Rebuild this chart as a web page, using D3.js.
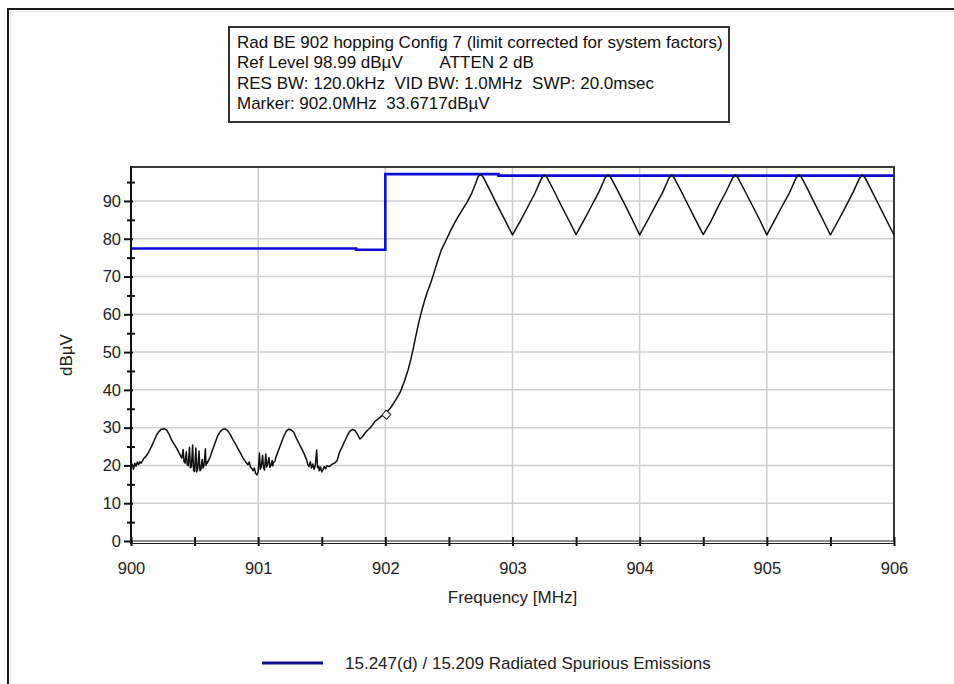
<!DOCTYPE html>
<html><head><meta charset="utf-8">
<script src="https://cdn.jsdelivr.net/npm/d3@7"></script>
<style>
html,body{margin:0;padding:0;background:#fff;}
svg{display:block;font-family:"Liberation Sans",Arial,sans-serif;}
</style></head>
<body>
<svg id="chart" width="954" height="684"></svg>
<script>
// ---- data ----
const headerLines = [
  "Rad BE 902 hopping Config 7 (limit corrected for system factors)",
  "Ref Level 98.99 dB\u00b5V        ATTEN 2 dB",
  "RES BW: 120.0kHz  VID BW: 1.0MHz  SWP: 20.0msec",
  "Marker: 902.0MHz  33.6717dB\u00b5V"
];
const xTickLabels = [900, 901, 902, 903, 904, 905, 906];
const xMinorTicks = [900.5, 901.5, 902.5, 903.5, 904.5, 905.5];
const yTickLabels = [0, 10, 20, 30, 40, 50, 60, 70, 80, 90];
const yMinorTicks = [5, 15, 25, 35, 45, 55, 65, 75, 85, 95];
const xTitle = "Frequency [MHz]";
const yTitle = "dB\u00b5V";
const legendLabel = "15.247(d) / 15.209 Radiated Spurious Emissions";
const refLevel = 98.99;
const marker = {freq: 902.0, level: 33.6717};

// limit line (15.247(d) / 15.209)
const limitFreq = [900, 901.77, 901.77, 902.0, 902.0, 902.89, 902.89, 906];
const limitDb   = [77.4, 77.4, 77.1, 77.1, 97.1, 97.1, 96.7, 96.7];

// measured trace
const traceFreq = [
 900.00,900.01,900.02,900.03,900.04,900.05,900.06,900.07,900.08,900.10,
 900.12,900.14,900.16,900.18,900.20,900.22,900.24,900.26,900.28,900.30,
 900.32,900.34,900.36,900.38,900.40,900.41,900.417,900.425,900.435,900.442,
 900.45,900.46,900.467,900.475,900.485,900.492,900.50,900.51,900.517,900.525,
 900.535,900.542,900.55,900.56,900.567,900.575,900.585,900.59,900.595,900.60,
 900.61,900.62,900.64,900.66,900.68,900.70,900.72,900.74,900.76,
 900.78,900.80,900.82,900.84,900.86,900.88,900.90,900.92,900.93,900.94,
 900.95,900.96,900.97,900.98,900.99,901.00,901.01,901.017,901.025,901.035,
 901.042,901.05,901.06,901.067,901.075,901.085,901.092,901.10,901.11,901.115,
 901.12,901.13,901.14,901.16,901.18,901.20,901.22,901.24,901.26,901.28,
 901.30,901.32,901.34,901.36,901.38,901.39,901.40,901.41,901.42,901.43,
 901.44,901.45,901.46,901.467,901.475,901.48,901.49,901.50,901.51,901.52,
 901.53,901.54,901.56,901.58,901.60,901.62,901.64,901.66,901.68,901.70,
 901.72,901.74,901.76,901.78,901.80,901.82,901.84,901.86,901.88,901.90,
 901.92,901.94,901.96,901.98,902.00,902.04,902.08,902.12,902.15,902.18,
 902.20,902.22,902.24,902.26,902.285,902.31,902.33,902.35,902.38,902.41,
 902.44,902.48,902.52,902.56,902.60,902.64,902.68,902.71,902.73,902.75,
 902.77,902.82,902.88,902.94,903.00,903.06,903.12,903.18,903.23,903.25,
 903.27,903.32,903.38,903.44,903.50,903.56,903.62,903.68,903.73,903.75,
 903.77,903.82,903.88,903.94,904.00,904.06,904.12,904.18,904.23,904.25,
 904.27,904.32,904.38,904.44,904.50,904.56,904.62,904.68,904.73,904.75,
 904.77,904.82,904.88,904.94,905.00,905.06,905.12,905.18,905.23,905.25,
 905.27,905.32,905.38,905.44,905.50,905.56,905.62,905.68,905.73,905.75,
 905.77,905.82,905.88,905.94,906.00
];
const traceDb = [
 19.5,20.3,19.0,20.6,19.8,20.9,20.2,21.0,20.6,21.8,
 22.5,23.6,24.9,26.4,28.0,29.0,29.6,29.7,29.4,28.2,
 26.7,25.6,24.5,23.2,21.9,24.2,21.0,20.6,23.6,20.2,
 19.9,24.8,19.4,19.6,25.4,18.6,18.4,24.6,18.3,19.2,
 23.8,18.6,18.9,21.6,19.3,20.2,24.4,20.0,21.0,20.6,
 21.4,22.0,24.0,25.8,27.7,28.9,29.5,29.7,29.2,
 28.2,26.9,25.8,24.5,23.3,22.0,21.0,20.2,20.9,19.5,
 19.2,18.6,19.3,17.9,17.5,18.2,23.3,19.0,19.8,22.6,
 19.4,18.8,23.0,19.6,20.4,22.1,19.5,20.0,21.3,19.9,
 20.8,21.0,22.2,24.0,25.8,27.6,29.0,29.6,29.4,28.8,
 27.2,25.9,24.6,23.2,21.6,20.3,19.7,21.0,19.3,20.4,
 19.0,20.1,24.1,19.4,19.8,18.6,19.6,18.3,18.9,19.7,
 19.1,19.9,19.7,20.3,20.6,21.2,23.5,24.9,26.4,27.8,
 29.0,29.5,29.3,28.3,27.0,27.6,28.5,29.3,29.9,30.8,
 31.7,32.2,32.8,33.3,33.7,35.2,37.2,39.6,42.3,45.4,
 48.0,51.0,54.3,57.4,60.8,63.8,65.9,67.6,70.7,74.0,
 77.0,79.8,82.6,85.1,87.4,89.5,92.1,94.6,96.5,97.0,
 96.3,93.0,88.9,85.0,81.0,84.6,88.4,92.3,96.1,96.9,
 96.3,93.1,89.0,85.1,81.1,84.8,88.6,92.4,96.2,96.9,
 96.4,93.2,89.3,85.2,81.0,84.7,88.5,92.2,96.0,96.9,
 96.2,93.0,89.0,85.0,81.1,84.6,88.7,92.5,96.0,96.9,
 96.3,93.1,89.2,85.3,81.0,84.8,88.6,92.3,96.1,96.9,
 96.4,93.2,89.1,85.1,81.0,84.7,88.5,92.4,96.1,96.9,
 96.3,93.0,89.0,85.0,81.0
];

// ---- drawing ----
const svg = d3.select("#chart");
const W = 954, H = 684;
const x = d3.scaleLinear().domain([900, 906]).range([131, 894]);
const y = d3.scaleLinear().domain([0, refLevel]).range([541, 167]);
const FONT = "Liberation Sans, Arial, sans-serif";

svg.append("rect").attr("width", W).attr("height", H).attr("fill", "#fefefe");
// outer frame (top & left visible)
svg.append("path").attr("d", `M8,${H} L8,9 L${W},9`).attr("fill", "none")
  .attr("stroke", "#1a1a1a").attr("stroke-width", 2);
svg.append("path").attr("d", `M10.5,${H} L10.5,11.5 L${W},11.5`).attr("fill", "none")
  .attr("stroke", "#e6e6e6").attr("stroke-width", 1);

// header box
const hb = svg.append("g");
hb.append("rect").attr("x", 229).attr("y", 27).attr("width", 500).attr("height", 95)
  .attr("fill", "#fff").attr("stroke", "#333").attr("stroke-width", 2);
hb.selectAll("text").data(headerLines).join("text")
  .attr("x", 237).attr("y", (d, i) => 48 + i * 20.3)
  .attr("font-size", 17).attr("fill", "#111")
  .style("white-space", "pre")
  .text(d => d);

// gridlines
const grid = svg.append("g").attr("stroke", "#cfcfcf").attr("stroke-width", 1.5);
grid.selectAll("line.v").data(xTickLabels.slice(1, -1)).join("line").attr("class", "v")
  .attr("x1", d => x(d)).attr("x2", d => x(d)).attr("y1", y(refLevel)).attr("y2", y(0));
grid.selectAll("line.h").data(yTickLabels.slice(1)).join("line").attr("class", "h")
  .attr("x1", x(900)).attr("x2", x(906)).attr("y1", d => y(d)).attr("y2", d => y(d));

// plot border top/right
svg.append("path").attr("d", `M${x(900)},${y(refLevel)} L${x(906)},${y(refLevel)} L${x(906)},${y(0)}`)
  .attr("fill", "none").attr("stroke", "#3a3a3a").attr("stroke-width", 2);

// limit line
const line = d3.line().x(d => x(d[0])).y(d => y(d[1]));
svg.append("path").datum(limitFreq.map((f, i) => [f, limitDb[i]]))
  .attr("d", line).attr("fill", "none").attr("stroke", "#0c0cd6").attr("stroke-width", 2.6);

// trace
svg.append("path").datum(traceFreq.map((f, i) => [f, traceDb[i]]))
  .attr("d", line).attr("fill", "none").attr("stroke", "#111").attr("stroke-width", 1.5)
  .attr("stroke-linejoin", "round");

// marker
svg.append("path").attr("d", d3.symbol(d3.symbolSquare, 40)())
  .attr("transform", `translate(${x(marker.freq) + 1},${y(marker.level) + 1}) rotate(40)`)
  .attr("fill", "#fff").attr("stroke", "#222").attr("stroke-width", 1);

// y axis
const yAx = svg.append("g").attr("transform", `translate(${x(900)},0)`)
  .call(d3.axisLeft(y).tickValues(yTickLabels).tickSize(7).tickPadding(3).tickFormat(d3.format("d")));
yAx.select(".domain").remove();
yAx.selectAll(".tick line").attr("x1", 2).attr("stroke", "#111").attr("stroke-width", 2);
yAx.selectAll("text").attr("font-size", 16.5).attr("fill", "#222").attr("font-family", FONT);
const yMin = svg.append("g").attr("transform", `translate(${x(900)},0)`)
  .call(d3.axisLeft(y).tickValues(yMinorTicks).tickSize(4).tickFormat(""));
yMin.select(".domain").remove();
yMin.selectAll(".tick line").attr("x1", 4).attr("stroke", "#111").attr("stroke-width", 2);
svg.append("line").attr("x1", x(900)).attr("x2", x(900)).attr("y1", y(refLevel) - 1).attr("y2", y(0) + 3)
  .attr("stroke", "#111").attr("stroke-width", 2);

// x axis
const xAx = svg.append("g").attr("transform", `translate(0,${y(0)})`)
  .call(d3.axisBottom(x).tickValues(xTickLabels).tickSize(5).tickFormat(d3.format("d")));
xAx.select(".domain").remove();
xAx.selectAll(".tick line").attr("y1", -4).attr("stroke", "#111").attr("stroke-width", 2);
xAx.selectAll("text").attr("y", 33).attr("dy", 0).attr("font-size", 16.5).attr("fill", "#222")
  .attr("font-family", FONT);
const xMin = svg.append("g").attr("transform", `translate(0,${y(0)})`)
  .call(d3.axisBottom(x).tickValues(xMinorTicks).tickSize(5).tickFormat(""));
xMin.select(".domain").remove();
xMin.selectAll(".tick line").attr("y1", -4).attr("stroke", "#111").attr("stroke-width", 2);
svg.append("line").attr("x1", x(900)).attr("x2", x(906)).attr("y1", y(0)).attr("y2", y(0))
  .attr("stroke", "#222").attr("stroke-width", 1.2);
svg.append("line").attr("x1", x(900)).attr("x2", x(906)).attr("y1", y(0) + 2.5).attr("y2", y(0) + 2.5)
  .attr("stroke", "#222").attr("stroke-width", 1.2);

// titles
svg.append("text").attr("x", (x(900) + x(906)) / 2).attr("y", 603).attr("text-anchor", "middle")
  .attr("font-size", 17).attr("fill", "#222").text(xTitle);
svg.append("text").attr("transform", `translate(72,355) rotate(-90)`).attr("text-anchor", "middle")
  .attr("font-size", 17).attr("fill", "#222").text(yTitle);

// legend
svg.append("line").attr("x1", 262).attr("x2", 323).attr("y1", 663).attr("y2", 663)
  .attr("stroke", "#101088").attr("stroke-width", 3);
svg.append("text").attr("x", 345).attr("y", 669).attr("font-size", 17).attr("fill", "#222").text(legendLabel);
</script>
</body></html>
